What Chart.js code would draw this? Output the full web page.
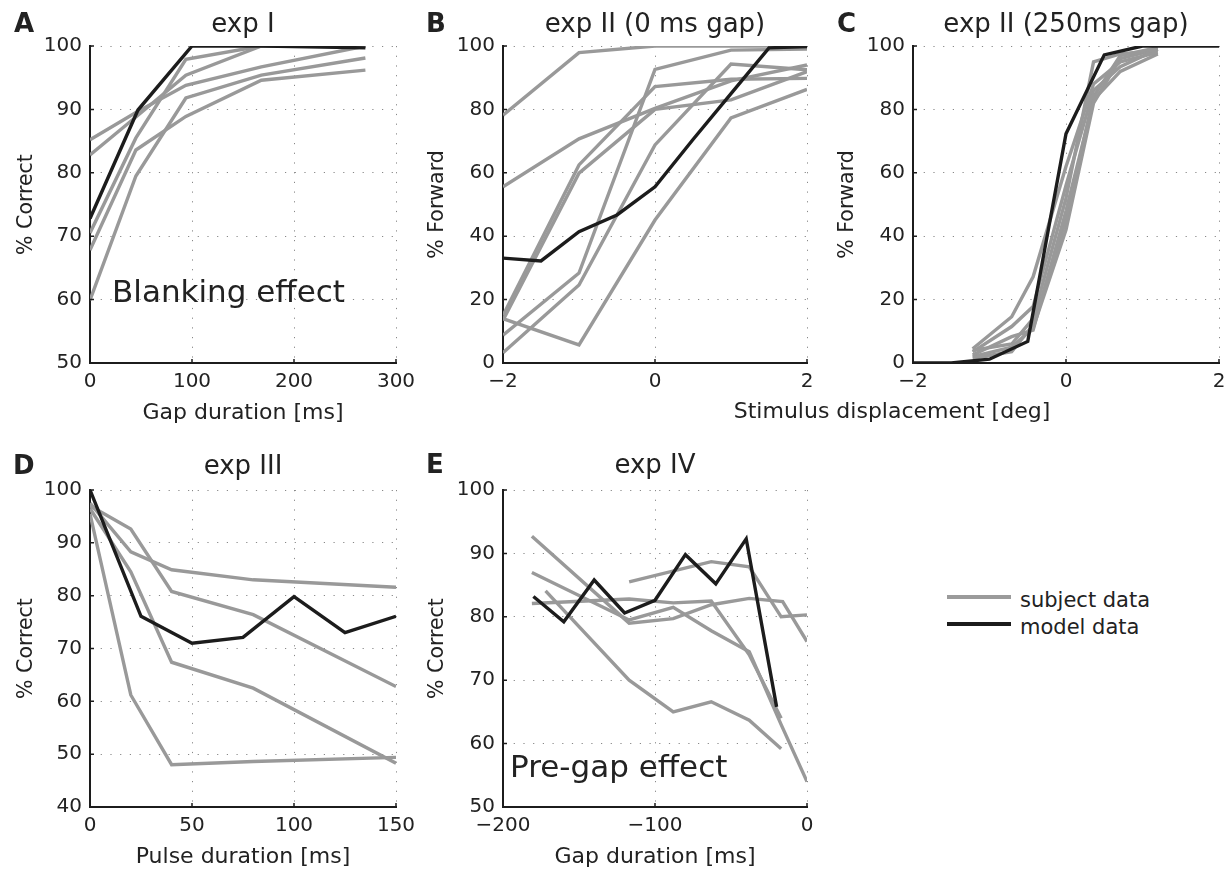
<!DOCTYPE html>
<html>
<head>
<meta charset="utf-8">
<script src="https://cdn.jsdelivr.net/npm/chart.js@4.4.0/dist/chart.umd.min.js"></script>
<style>
  body { margin: 0; background: #fff; width: 1226px; height: 870px; position: relative; overflow: hidden;
         font-family: "DejaVu Sans", sans-serif; color: #222; }
  canvas { position: absolute; }
  .lbl { position: absolute; line-height: 1; white-space: nowrap; }
  .key { position: absolute; left: 947px; width: 64px; height: 4.3px; }
</style>
</head>
<body>
<canvas id="panelA" width="420" height="430" style="left:0;top:0"></canvas>
<canvas id="panelB" width="420" height="430" style="left:410px;top:0"></canvas>
<canvas id="panelC" width="406" height="430" style="left:820px;top:0"></canvas>
<canvas id="panelD" width="420" height="430" style="left:0;top:440px"></canvas>
<canvas id="panelE" width="420" height="430" style="left:420px;top:440px"></canvas>

<div class="lbl" style="left:892px;top:399.5px;font-size:22px;transform:translateX(-50%)">Stimulus displacement [deg]</div>

<div class="key" style="top:595px;background:#9b9b9b"></div>
<div class="key" style="top:621.5px;background:#1c1c1c"></div>
<div class="lbl" style="left:1020px;top:590px;font-size:21px">subject data</div>
<div class="lbl" style="left:1020px;top:617px;font-size:21px">model data</div>

<script>
// exp I : blanking
const exp1GapSubj = [0, 45, 94, 168, 270];
const exp1Subjects = [
  [85.2, 89.5, 93.8, 96.7, 100],
  [82.8, 88.8, 95.4, 100, 100],
  [70.5, 85.5, 97.9, 100, 100],
  [67.8, 83.6, 88.9, 94.6, 96.2],
  [59.9, 79.5, 91.8, 95.4, 98.1]
];
const exp1GapModel = [0, 47, 100, 170, 270];
const exp1Model = [72.8, 89.9, 100, 100, 99.7];

// exp II, 0 ms gap
const exp2Disp = [-2, -1, 0, 1, 2];
const exp2ShortSubjects = [
  [78.2, 97.9, 100, 100, 100],
  [55.6, 70.7, 80.3, 89.0, 94.0],
  [15.0, 62.5, 87.2, 89.5, 89.8],
  [14.0, 5.7, 45.1, 77.3, 86.3],
  [13.5, 59.9, 80.0, 83.0, 91.9],
  [8.8, 28.4, 92.6, 98.7, 99.0],
  [3.2, 24.6, 68.8, 94.3, 92.5]
];
const exp2ModelDisp = [-2, -1.5, -1, -0.5, 0, 0.5, 1, 1.5, 2];
const exp2ShortModel = [33.1, 32.2, 41.4, 46.7, 55.6, 70.5, 85.0, 99.4, 99.8];

// exp II, 250 ms gap
const exp2LongDisp = [-1.22, -0.71, -0.43, 0, 0.36, 0.71, 1.2];
const exp2LongSubjects = [
  [4.5, 14.6, 27.2, 62, 88, 95, 98],
  [3.5, 11.5, 17.8, 56, 86, 93.5, 99],
  [2.5, 8.3, 10.4, 48, 83, 92, 97.5],
  [1.5, 3.6, 12.0, 45, 84, 97, 99.5],
  [4.0, 6.0, 14.0, 52, 95, 97.5, 98.5],
  [2.0, 5.0, 11.0, 42, 82, 96, 99]
];
const exp2LongModelDisp = [-2, -1.5, -1, -0.5, 0, 0.5, 1, 2];
const exp2LongModel = [0, 0, 1.2, 6.8, 72.3, 97.2, 100, 100];

// exp III : pulse
const exp3PulseSubj = [0, 20, 40, 80, 150];
const exp3Subjects = [
  [97.5, 88.3, 84.9, 83.0, 81.6],
  [97.0, 92.6, 80.8, 76.4, 62.8],
  [96.5, 84.5, 67.4, 62.5, 48.3],
  [95.5, 61.2, 48.0, 48.6, 49.4]
];
const exp3PulseModel = [0, 25, 50, 75, 100, 125, 150];
const exp3Model = [100, 76.1, 71.0, 72.1, 79.8, 73.0, 76.1];

// exp IV : pre-gap
const exp4SubjGaps = [
  [-181, -117, -88, -63, -38, -16, 0],
  [-181, -117, -88, -63, -38, -17, 0],
  [-181, -117, -88, -63, -38, -17],
  [-172, -117, -88, -63, -38, -17],
  [-117, -63, -38, -17, 0]
];
const exp4Subjects = [
  [92.7, 79.0, 79.7, 81.9, 82.9, 82.4, 76.1],
  [87.0, 79.5, 81.5, 77.8, 74.5, 63.0, 54.0],
  [82.1, 82.8, 82.2, 82.5, 74.0, 64.0],
  [84.1, 70.0, 65.0, 66.6, 63.7, 59.2],
  [85.5, 88.7, 87.9, 80.0, 80.3]
];
const exp4GapModel = [-180, -160, -140, -120, -100, -80, -60, -40, -20];
const exp4Model = [83.2, 79.2, 85.8, 80.6, 82.6, 89.8, 85.2, 92.3, 65.8];

const GREY = '#999999';
const BLACK = '#1c1c1c';

Chart.defaults.font.family = '"DejaVu Sans", sans-serif';

function pts(xs, ys) {
  return xs.map((x, i) => ({x: x, y: ys[i]}));
}

function lineSet(points, color) {
  return { data: points, borderColor: color, borderWidth: 3.4, pointRadius: 0,
           pointHoverRadius: 0, tension: 0, fill: false };
}

// model first so it is drawn on top
function sets(modelX, model, subjX, subjects) {
  const out = [lineSet(pts(modelX, model), BLACK)];
  subjects.forEach((ys, i) => {
    const xs = Array.isArray(subjX[0]) ? subjX[i] : subjX;
    out.push(lineSet(pts(xs, ys), GREY));
  });
  return out;
}

const panelText = {
  id: 'panelText',
  afterDraw(chart, args, o) {
    const ctx = chart.ctx, a = chart.chartArea;
    const cx = (a.left + a.right) / 2, cy = (a.top + a.bottom) / 2;
    ctx.save();
    ctx.fillStyle = '#222';
    ctx.textBaseline = 'alphabetic';
    ctx.textAlign = 'left';
    ctx.font = 'bold 26px "DejaVu Sans"';
    ctx.fillText(o.letter, o.letterX, o.headY);
    ctx.textAlign = 'center';
    ctx.font = '26px "DejaVu Sans"';
    ctx.fillText(o.title, cx, o.headY);
    if (o.xlabel) {
      ctx.font = '22px "DejaVu Sans"';
      ctx.fillText(o.xlabel, cx, a.bottom + 56);
    }
    if (o.note) {
      ctx.textAlign = 'left';
      ctx.font = '31px "DejaVu Sans"';
      ctx.fillText(o.note, o.noteX, o.noteY);
    }
    ctx.translate(o.ylabelX, cy);
    ctx.rotate(-Math.PI / 2);
    ctx.textAlign = 'center';
    ctx.font = '20.5px "DejaVu Sans"';
    ctx.fillText(o.ylabel, 0, 0);
    ctx.restore();
  }
};

// small inward tick marks, matlab style
const innerTicks = {
  id: 'innerTicks',
  afterDraw(chart) {
    const ctx = chart.ctx, a = chart.chartArea;
    const xs = chart.scales.x, ys = chart.scales.y;
    ctx.save();
    ctx.strokeStyle = BLACK;
    ctx.lineWidth = 1.5;
    ctx.beginPath();
    xs.ticks.forEach(t => {
      const p = xs.getPixelForValue(t.value);
      ctx.moveTo(p, a.bottom);
      ctx.lineTo(p, a.bottom - 4);
    });
    ys.ticks.forEach(t => {
      const p = ys.getPixelForValue(t.value);
      ctx.moveTo(a.left, p);
      ctx.lineTo(a.left + 4, p);
    });
    ctx.stroke();
    ctx.restore();
  }
};

function fmt(v) {
  return String(v).replace('-', '\u2212');
}

function makePanel(id, area, xr, yr, datasets, text) {
  const cv = document.getElementById(id);
  const grid = { color: '#888', lineWidth: 1, drawTicks: false };
  const border = { display: true, color: BLACK, width: 2, dash: [1.2, 8.5] };
  return new Chart(cv, {
    type: 'line',
    data: { datasets: datasets },
    options: {
      responsive: false,
      animation: false,
      events: [],
      layout: { padding: { left: 0, top: area.top, right: cv.width - area.right, bottom: 0 } },
      plugins: { legend: { display: false }, tooltip: { enabled: false }, panelText: text },
      scales: {
        x: {
          type: 'linear', position: 'bottom', min: xr[0], max: xr[1],
          ticks: { stepSize: xr[2], padding: 7, color: '#222', font: { size: 20 },
                   maxRotation: 0, autoSkip: false, callback: fmt },
          grid: grid, border: border,
          afterFit: s => { s.height = cv.height - area.bottom; s.paddingLeft = 0; s.paddingRight = 0; }
        },
        y: {
          type: 'linear', position: 'left', min: yr[0], max: yr[1],
          ticks: { stepSize: yr[2], padding: 8, color: '#222', font: { size: 20 }, autoSkip: false },
          grid: grid, border: border,
          afterFit: s => { s.width = area.left; s.paddingTop = 0; s.paddingBottom = 0; }
        }
      }
    },
    plugins: [panelText, innerTicks]
  });
}

makePanel('panelA', {left: 90, top: 46, right: 396, bottom: 363}, [0, 300, 100], [50, 100, 10],
  sets(exp1GapModel, exp1Model, exp1GapSubj, exp1Subjects),
  {letter: 'A', letterX: 14, headY: 32, title: 'exp I', xlabel: 'Gap duration [ms]',
   ylabel: '% Correct', ylabelX: 32, note: 'Blanking effect', noteX: 112, noteY: 302});

makePanel('panelB', {left: 93, top: 46, right: 397, bottom: 363}, [-2, 2, 2], [0, 100, 20],
  sets(exp2ModelDisp, exp2ShortModel, exp2Disp, exp2ShortSubjects),
  {letter: 'B', letterX: 16, headY: 32, title: 'exp II (0 ms gap)', ylabel: '% Forward', ylabelX: 33});

makePanel('panelC', {left: 93, top: 46, right: 399, bottom: 363}, [-2, 2, 2], [0, 100, 20],
  sets(exp2LongModelDisp, exp2LongModel, exp2LongDisp, exp2LongSubjects),
  {letter: 'C', letterX: 17, headY: 32, title: 'exp II (250ms gap)', ylabel: '% Forward', ylabelX: 33});

makePanel('panelD', {left: 90, top: 50, right: 396, bottom: 367}, [0, 150, 50], [40, 100, 10],
  sets(exp3PulseModel, exp3Model, exp3PulseSubj, exp3Subjects),
  {letter: 'D', letterX: 13, headY: 34, title: 'exp III', xlabel: 'Pulse duration [ms]',
   ylabel: '% Correct', ylabelX: 32});

makePanel('panelE', {left: 83, top: 50, right: 387, bottom: 367}, [-200, 0, 100], [50, 100, 10],
  sets(exp4GapModel, exp4Model, exp4SubjGaps, exp4Subjects),
  {letter: 'E', letterX: 6, headY: 33, title: 'exp IV', xlabel: 'Gap duration [ms]',
   ylabel: '% Correct', ylabelX: 23, note: 'Pre-gap effect', noteX: 90, noteY: 337});
</script>
</body>
</html>
